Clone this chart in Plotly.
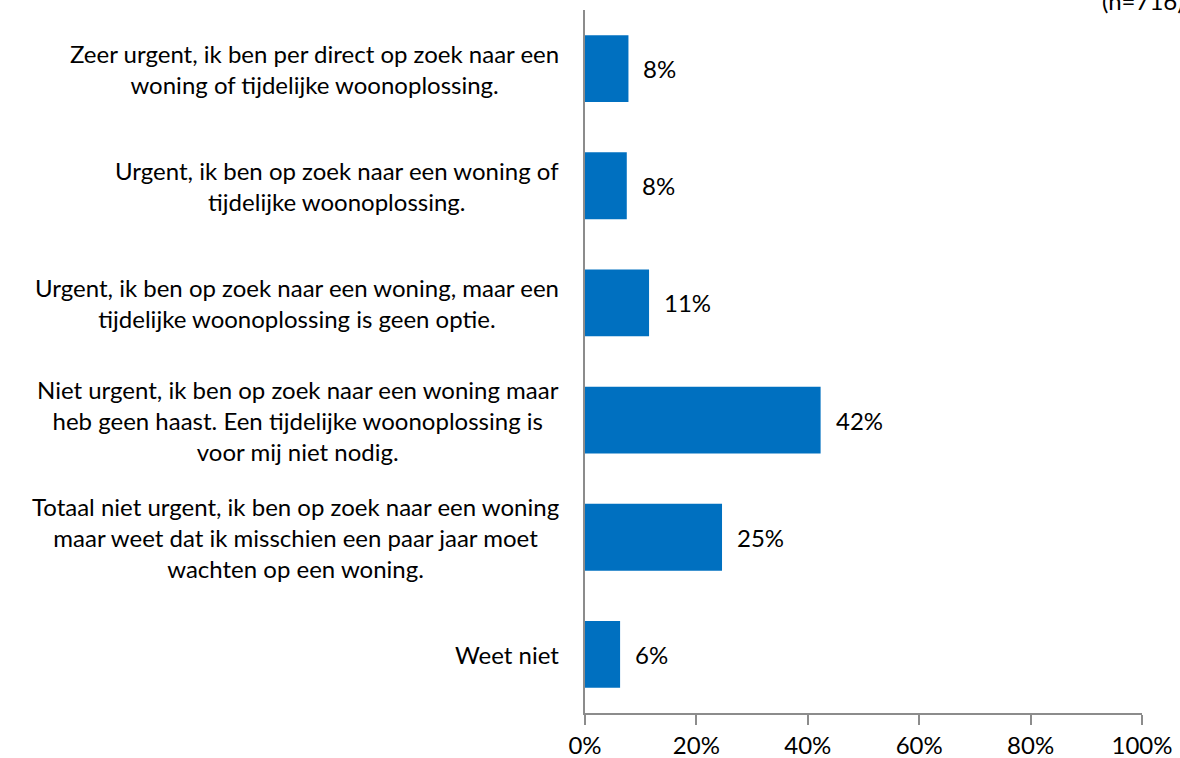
import plotly.graph_objects as go

categories = [
    "Zeer urgent, ik ben per direct op zoek naar een<br>woning of tijdelijke woonoplossing.",
    "Urgent, ik ben op zoek naar een woning of<br>tijdelijke woonoplossing.",
    "Urgent, ik ben op zoek naar een woning, maar een<br>tijdelijke woonoplossing is geen optie.",
    "Niet urgent, ik ben op zoek naar een woning maar<br>heb geen haast. Een tijdelijke woonoplossing is<br>voor mij niet nodig.",
    "Totaal niet urgent, ik ben op zoek naar een woning<br>maar weet dat ik misschien een paar jaar moet<br>wachten op een woning.",
    "Weet niet",
]
values = [7.8, 7.5, 11.5, 42.3, 24.6, 6.3]
labels = ["8%", "8%", "11%", "42%", "25%", "6%"]
tick_vals = [0, 20, 40, 60, 80, 100]
tick_text = ["0%", "20%", "40%", "60%", "80%", "100%"]
note = "(n=716)"

FONT = "Lato"
FS = 24
BLUE = "#0070C0"
AXIS = "#8C8C8C"

fig = go.Figure()
fig.add_trace(go.Bar(
    y=categories, x=values, orientation="h",
    marker=dict(color=BLUE, line=dict(width=0)),
    width=0.57, hoverinfo="skip",
))

annotations = []
for c, v, t in zip(categories, values, labels):
    annotations.append(dict(x=v, y=c, xref="x", yref="y", text=t, showarrow=False,
                            xanchor="left", xshift=13, font=dict(family=FONT, size=FS, color="#000")))
    annotations.append(dict(x=0, y=c, xref="x", yref="y", text=c, showarrow=False,
                            xanchor="right", xshift=-24, align="center",
                            font=dict(family=FONT, size=FS, color="#000")))
annotations.append(dict(x=(1100 - 585) / 557, y=1, xref="paper", yref="paper", text=note,
                        showarrow=False, xanchor="left", yanchor="middle", yshift=10,
                        font=dict(family=FONT, size=FS, color="#000")))

fig.update_layout(
    width=1180, height=758,
    margin=dict(l=585, r=38, t=10, b=45),
    paper_bgcolor="white", plot_bgcolor="white",
    showlegend=False,
    annotations=annotations,
    xaxis=dict(range=[0, 100], tickvals=tick_vals, ticktext=tick_text, automargin=False,
               showgrid=False, zeroline=False, showline=True, linecolor=AXIS, linewidth=1.5,
               ticks="outside", ticklen=10, tickcolor=AXIS, tickwidth=1.5,
               tickfont=dict(family=FONT, size=FS, color="#000")),
    yaxis=dict(categoryorder="array", categoryarray=categories[::-1], automargin=False,
               showticklabels=False, showgrid=False, zeroline=False,
               showline=True, linecolor=AXIS, linewidth=1.5, ticks=""),
)

fig.write_html("out.html", config={"displayModeBar": False},
               post_script="document.body.style.margin='0';")
